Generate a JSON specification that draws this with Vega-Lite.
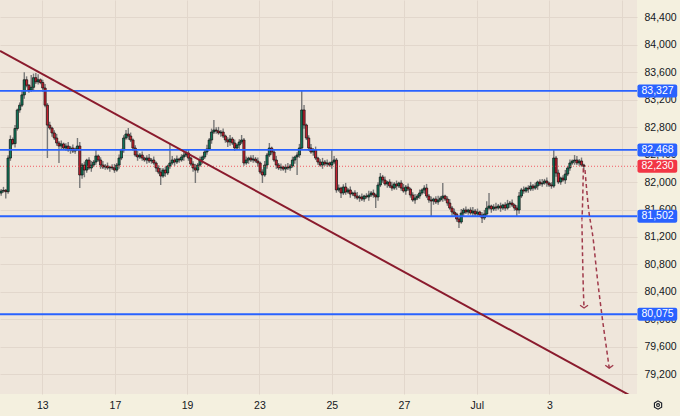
{
  "$schema": "https://vega.github.io/schema/vega-lite/v6.json",
  "width": 637,
  "height": 394,
  "autosize": {"type": "none"},
  "padding": {"left": 0, "top": 0, "right": 43, "bottom": 22},
  "background": "#f4f0df",
  "resolve": {"axis": {"x": "independent", "y": "independent"}},
  "config": {
    "view": {"fill": "#efe6db", "stroke": null},
    "font": "Liberation Sans",
    "scale": {"continuousPadding": 0},
    "axis": {"labelFont": "Liberation Sans", "labelFontSize": 10.5, "labelColor": "#131722"}
  },
  "datasets": {
    "candles": [
      {"i":0,"o":81840,"h":81900,"l":81800,"c":81870},
      {"i":1,"o":81870,"h":81930,"l":81845,"c":81880},
      {"i":2,"o":81880,"h":81900,"l":81760,"c":81860},
      {"i":3,"o":81860,"h":82390,"l":81830,"c":82350},
      {"i":4,"o":82350,"h":82680,"l":82310,"c":82620},
      {"i":5,"o":82620,"h":82650,"l":82535,"c":82560},
      {"i":6,"o":82560,"h":82830,"l":82505,"c":82780},
      {"i":7,"o":82780,"h":83070,"l":82750,"c":83050},
      {"i":8,"o":83050,"h":83160,"l":83010,"c":83120},
      {"i":9,"o":83120,"h":83330,"l":83095,"c":83270},
      {"i":10,"o":83270,"h":83600,"l":83215,"c":83490},
      {"i":11,"o":83490,"h":83540,"l":83380,"c":83410},
      {"i":12,"o":83410,"h":83430,"l":83300,"c":83340},
      {"i":13,"o":83340,"h":83560,"l":83315,"c":83380},
      {"i":14,"o":83380,"h":83580,"l":83325,"c":83520},
      {"i":15,"o":83520,"h":83590,"l":83430,"c":83460},
      {"i":16,"o":83460,"h":83570,"l":83420,"c":83490},
      {"i":17,"o":83490,"h":83510,"l":83425,"c":83450},
      {"i":18,"o":83450,"h":83490,"l":83315,"c":83370},
      {"i":19,"o":83370,"h":83430,"l":83090,"c":83120},
      {"i":20,"o":83120,"h":83150,"l":82350,"c":82830},
      {"i":21,"o":82830,"h":82880,"l":82762,"c":82787},
      {"i":22,"o":82787,"h":82807,"l":82660,"c":82715},
      {"i":23,"o":82715,"h":82755,"l":82612,"c":82642},
      {"i":24,"o":82642,"h":82702,"l":82529,"c":82569},
      {"i":25,"o":82569,"h":82599,"l":82278,"c":82525},
      {"i":26,"o":82525,"h":82605,"l":82470,"c":82555},
      {"i":27,"o":82555,"h":82575,"l":82466,"c":82496},
      {"i":28,"o":82496,"h":82565,"l":82456,"c":82525},
      {"i":29,"o":82525,"h":82585,"l":82442,"c":82467},
      {"i":30,"o":82467,"h":82526,"l":82412,"c":82496},
      {"i":31,"o":82496,"h":82546,"l":82422,"c":82452},
      {"i":32,"o":82452,"h":82502,"l":82412,"c":82482},
      {"i":33,"o":82482,"h":82642,"l":82457,"c":82525},
      {"i":34,"o":82525,"h":82585,"l":81913,"c":82103},
      {"i":35,"o":82103,"h":82278,"l":82048,"c":82248},
      {"i":36,"o":82248,"h":82298,"l":82070,"c":82175},
      {"i":37,"o":82175,"h":82340,"l":82135,"c":82320},
      {"i":38,"o":82320,"h":82360,"l":82180,"c":82205},
      {"i":39,"o":82205,"h":82308,"l":82150,"c":82248},
      {"i":40,"o":82248,"h":82322,"l":82218,"c":82292},
      {"i":41,"o":82292,"h":82467,"l":82252,"c":82380},
      {"i":42,"o":82380,"h":82400,"l":82296,"c":82321},
      {"i":43,"o":82321,"h":82361,"l":82193,"c":82248},
      {"i":44,"o":82248,"h":82308,"l":82189,"c":82219},
      {"i":45,"o":82219,"h":82264,"l":82179,"c":82234},
      {"i":46,"o":82234,"h":82284,"l":82180,"c":82205},
      {"i":47,"o":82205,"h":82239,"l":82150,"c":82219},
      {"i":48,"o":82219,"h":82259,"l":82175,"c":82205},
      {"i":49,"o":82205,"h":82265,"l":82135,"c":82175},
      {"i":50,"o":82175,"h":82278,"l":82150,"c":82248},
      {"i":51,"o":82248,"h":82400,"l":82193,"c":82350},
      {"i":52,"o":82350,"h":82487,"l":82320,"c":82467},
      {"i":53,"o":82467,"h":82682,"l":82427,"c":82642},
      {"i":54,"o":82642,"h":82760,"l":82617,"c":82700},
      {"i":55,"o":82700,"h":82787,"l":82616,"c":82671},
      {"i":56,"o":82671,"h":82721,"l":82583,"c":82613},
      {"i":57,"o":82613,"h":82633,"l":82456,"c":82496},
      {"i":58,"o":82496,"h":82536,"l":82369,"c":82394},
      {"i":59,"o":82394,"h":82454,"l":82310,"c":82365},
      {"i":60,"o":82365,"h":82424,"l":82335,"c":82394},
      {"i":61,"o":82394,"h":82444,"l":82310,"c":82350},
      {"i":62,"o":82350,"h":82370,"l":82296,"c":82321},
      {"i":63,"o":82321,"h":82390,"l":82266,"c":82350},
      {"i":64,"o":82350,"h":82410,"l":82277,"c":82307},
      {"i":65,"o":82307,"h":82351,"l":82267,"c":82321},
      {"i":66,"o":82321,"h":82371,"l":82253,"c":82278},
      {"i":67,"o":82278,"h":82298,"l":82150,"c":82205},
      {"i":68,"o":82205,"h":82245,"l":82116,"c":82146},
      {"i":69,"o":82146,"h":82206,"l":81957,"c":82088},
      {"i":70,"o":82088,"h":82205,"l":82063,"c":82175},
      {"i":71,"o":82175,"h":82225,"l":82077,"c":82132},
      {"i":72,"o":82132,"h":82254,"l":82102,"c":82234},
      {"i":73,"o":82234,"h":82569,"l":82194,"c":82278},
      {"i":74,"o":82278,"h":82381,"l":82253,"c":82321},
      {"i":75,"o":82321,"h":82351,"l":82237,"c":82292},
      {"i":76,"o":82292,"h":82386,"l":82262,"c":82336},
      {"i":77,"o":82336,"h":82356,"l":82281,"c":82321},
      {"i":78,"o":82321,"h":82405,"l":82296,"c":82365},
      {"i":79,"o":82365,"h":82454,"l":82310,"c":82394},
      {"i":80,"o":82394,"h":82467,"l":82364,"c":82423},
      {"i":81,"o":82423,"h":82473,"l":82310,"c":82350},
      {"i":82,"o":82350,"h":82370,"l":82238,"c":82263},
      {"i":83,"o":82263,"h":82303,"l":82150,"c":82205},
      {"i":84,"o":82205,"h":82265,"l":81986,"c":82175},
      {"i":85,"o":82175,"h":82278,"l":82135,"c":82248},
      {"i":86,"o":82248,"h":82371,"l":82223,"c":82321},
      {"i":87,"o":82321,"h":82385,"l":82266,"c":82365},
      {"i":88,"o":82365,"h":82478,"l":82335,"c":82438},
      {"i":89,"o":82438,"h":82542,"l":82398,"c":82482},
      {"i":90,"o":82482,"h":82643,"l":82457,"c":82613},
      {"i":91,"o":82613,"h":82779,"l":82558,"c":82729},
      {"i":92,"o":82729,"h":82904,"l":82699,"c":82758},
      {"i":93,"o":82758,"h":82798,"l":82704,"c":82744},
      {"i":94,"o":82744,"h":82804,"l":82690,"c":82715},
      {"i":95,"o":82715,"h":82759,"l":82660,"c":82729},
      {"i":96,"o":82729,"h":82779,"l":82641,"c":82671},
      {"i":97,"o":82671,"h":82691,"l":82573,"c":82613},
      {"i":98,"o":82613,"h":82653,"l":82511,"c":82584},
      {"i":99,"o":82584,"h":82687,"l":82529,"c":82627},
      {"i":100,"o":82627,"h":82657,"l":82539,"c":82569},
      {"i":101,"o":82569,"h":82619,"l":82456,"c":82496},
      {"i":102,"o":82496,"h":82560,"l":82471,"c":82540},
      {"i":103,"o":82540,"h":82624,"l":82485,"c":82584},
      {"i":104,"o":82584,"h":82686,"l":82554,"c":82613},
      {"i":105,"o":82613,"h":82643,"l":82238,"c":82278},
      {"i":106,"o":82278,"h":82371,"l":82253,"c":82321},
      {"i":107,"o":82321,"h":82370,"l":82266,"c":82350},
      {"i":108,"o":82350,"h":82390,"l":82291,"c":82321},
      {"i":109,"o":82321,"h":82396,"l":82281,"c":82336},
      {"i":110,"o":82336,"h":82366,"l":82282,"c":82307},
      {"i":111,"o":82307,"h":82357,"l":82223,"c":82278},
      {"i":112,"o":82278,"h":82298,"l":82116,"c":82146},
      {"i":113,"o":82146,"h":82186,"l":81986,"c":82103},
      {"i":114,"o":82103,"h":82308,"l":82078,"c":82248},
      {"i":115,"o":82248,"h":82424,"l":82193,"c":82394},
      {"i":116,"o":82394,"h":82569,"l":82364,"c":82496},
      {"i":117,"o":82496,"h":82516,"l":82398,"c":82438},
      {"i":118,"o":82438,"h":82478,"l":82296,"c":82321},
      {"i":119,"o":82321,"h":82381,"l":82193,"c":82248},
      {"i":120,"o":82248,"h":82278,"l":82175,"c":82205},
      {"i":121,"o":82205,"h":82269,"l":82165,"c":82219},
      {"i":122,"o":82219,"h":82239,"l":82165,"c":82190},
      {"i":123,"o":82190,"h":82259,"l":82135,"c":82219},
      {"i":124,"o":82219,"h":82279,"l":82175,"c":82205},
      {"i":125,"o":82205,"h":82264,"l":82165,"c":82234},
      {"i":126,"o":82234,"h":82371,"l":82209,"c":82321},
      {"i":127,"o":82321,"h":82385,"l":82266,"c":82365},
      {"i":128,"o":82365,"h":82434,"l":82103,"c":82394},
      {"i":129,"o":82394,"h":82556,"l":82354,"c":82496},
      {"i":130,"o":82496,"h":83327,"l":82471,"c":83050},
      {"i":131,"o":83050,"h":83122,"l":82776,"c":82831},
      {"i":132,"o":82831,"h":82851,"l":82612,"c":82642},
      {"i":133,"o":82642,"h":82682,"l":82456,"c":82496},
      {"i":134,"o":82496,"h":82556,"l":82413,"c":82438},
      {"i":135,"o":82438,"h":82497,"l":82383,"c":82467},
      {"i":136,"o":82467,"h":82517,"l":82320,"c":82350},
      {"i":137,"o":82350,"h":82370,"l":82252,"c":82292},
      {"i":138,"o":82292,"h":82332,"l":82223,"c":82248},
      {"i":139,"o":82248,"h":82352,"l":82193,"c":82292},
      {"i":140,"o":82292,"h":82322,"l":82233,"c":82263},
      {"i":141,"o":82263,"h":82328,"l":82223,"c":82278},
      {"i":142,"o":82278,"h":82298,"l":82223,"c":82248},
      {"i":143,"o":82248,"h":82467,"l":82193,"c":82292},
      {"i":144,"o":82292,"h":82381,"l":82262,"c":82321},
      {"i":145,"o":82321,"h":82351,"l":81845,"c":81885},
      {"i":146,"o":81885,"h":81963,"l":81860,"c":81913},
      {"i":147,"o":81913,"h":81933,"l":81768,"c":81841},
      {"i":148,"o":81841,"h":81968,"l":81811,"c":81928},
      {"i":149,"o":81928,"h":81988,"l":81815,"c":81855},
      {"i":150,"o":81855,"h":81915,"l":81830,"c":81885},
      {"i":151,"o":81885,"h":81935,"l":81771,"c":81826},
      {"i":152,"o":81826,"h":81861,"l":81796,"c":81841},
      {"i":153,"o":81841,"h":81881,"l":81757,"c":81797},
      {"i":154,"o":81797,"h":81857,"l":81743,"c":81768},
      {"i":155,"o":81768,"h":81813,"l":81713,"c":81783},
      {"i":156,"o":81783,"h":81833,"l":81723,"c":81753},
      {"i":157,"o":81753,"h":81817,"l":81713,"c":81797},
      {"i":158,"o":81797,"h":81837,"l":81758,"c":81783},
      {"i":159,"o":81783,"h":81872,"l":81728,"c":81812},
      {"i":160,"o":81812,"h":81871,"l":81782,"c":81841},
      {"i":161,"o":81841,"h":81891,"l":81772,"c":81812},
      {"i":162,"o":81812,"h":81832,"l":81622,"c":81783},
      {"i":163,"o":81783,"h":81997,"l":81728,"c":81957},
      {"i":164,"o":81957,"h":82132,"l":81927,"c":82074},
      {"i":165,"o":82074,"h":82104,"l":81990,"c":82030},
      {"i":166,"o":82030,"h":82080,"l":81947,"c":81972},
      {"i":167,"o":81972,"h":82021,"l":81917,"c":82001},
      {"i":168,"o":82001,"h":82041,"l":81913,"c":81943},
      {"i":169,"o":81943,"h":82003,"l":81873,"c":81913},
      {"i":170,"o":81913,"h":82002,"l":81888,"c":81972},
      {"i":171,"o":81972,"h":82022,"l":81888,"c":81943},
      {"i":172,"o":81943,"h":82006,"l":81913,"c":81986},
      {"i":173,"o":81986,"h":82026,"l":81873,"c":81913},
      {"i":174,"o":81913,"h":81973,"l":81845,"c":81870},
      {"i":175,"o":81870,"h":81958,"l":81815,"c":81928},
      {"i":176,"o":81928,"h":81978,"l":81869,"c":81899},
      {"i":177,"o":81899,"h":81919,"l":81772,"c":81812},
      {"i":178,"o":81812,"h":81852,"l":81714,"c":81739},
      {"i":179,"o":81739,"h":81828,"l":81684,"c":81768},
      {"i":180,"o":81768,"h":81827,"l":81738,"c":81797},
      {"i":181,"o":81797,"h":81891,"l":81757,"c":81841},
      {"i":182,"o":81841,"h":81905,"l":81816,"c":81885},
      {"i":183,"o":81885,"h":81953,"l":81830,"c":81913},
      {"i":184,"o":81913,"h":81973,"l":81767,"c":81797},
      {"i":185,"o":81797,"h":81827,"l":81699,"c":81739},
      {"i":186,"o":81739,"h":81789,"l":81491,"c":81724},
      {"i":187,"o":81724,"h":81773,"l":81669,"c":81753},
      {"i":188,"o":81753,"h":81793,"l":81680,"c":81710},
      {"i":189,"o":81710,"h":81799,"l":81670,"c":81739},
      {"i":190,"o":81739,"h":81798,"l":81714,"c":81768},
      {"i":191,"o":81768,"h":81986,"l":81713,"c":81797},
      {"i":192,"o":81797,"h":81817,"l":81723,"c":81753},
      {"i":193,"o":81753,"h":81793,"l":81655,"c":81695},
      {"i":194,"o":81695,"h":81755,"l":81597,"c":81622},
      {"i":195,"o":81622,"h":81652,"l":81509,"c":81564},
      {"i":196,"o":81564,"h":81614,"l":81505,"c":81535},
      {"i":197,"o":81535,"h":81555,"l":81422,"c":81462},
      {"i":198,"o":81462,"h":81502,"l":81331,"c":81418},
      {"i":199,"o":81418,"h":81609,"l":81393,"c":81549},
      {"i":200,"o":81549,"h":81623,"l":81494,"c":81593},
      {"i":201,"o":81593,"h":81643,"l":81534,"c":81564},
      {"i":202,"o":81564,"h":81613,"l":81524,"c":81593},
      {"i":203,"o":81593,"h":81633,"l":81524,"c":81549},
      {"i":204,"o":81549,"h":81638,"l":81494,"c":81578},
      {"i":205,"o":81578,"h":81608,"l":81505,"c":81535},
      {"i":206,"o":81535,"h":81614,"l":81495,"c":81564},
      {"i":207,"o":81564,"h":81584,"l":81495,"c":81520},
      {"i":208,"o":81520,"h":81560,"l":81404,"c":81477},
      {"i":209,"o":81477,"h":81595,"l":81447,"c":81535},
      {"i":210,"o":81535,"h":81720,"l":81495,"c":81622},
      {"i":211,"o":81622,"h":81841,"l":81597,"c":81651},
      {"i":212,"o":81651,"h":81671,"l":81553,"c":81608},
      {"i":213,"o":81608,"h":81677,"l":81578,"c":81637},
      {"i":214,"o":81637,"h":81697,"l":81582,"c":81622},
      {"i":215,"o":81622,"h":81681,"l":81597,"c":81651},
      {"i":216,"o":81651,"h":81701,"l":81567,"c":81622},
      {"i":217,"o":81622,"h":81686,"l":81592,"c":81666},
      {"i":218,"o":81666,"h":81706,"l":81582,"c":81622},
      {"i":219,"o":81622,"h":81741,"l":81597,"c":81681},
      {"i":220,"o":81681,"h":81725,"l":81626,"c":81695},
      {"i":221,"o":81695,"h":81745,"l":81636,"c":81666},
      {"i":222,"o":81666,"h":81686,"l":81582,"c":81622},
      {"i":223,"o":81622,"h":81662,"l":81506,"c":81593},
      {"i":224,"o":81593,"h":81857,"l":81538,"c":81797},
      {"i":225,"o":81797,"h":81915,"l":81767,"c":81885},
      {"i":226,"o":81885,"h":81935,"l":81830,"c":81870},
      {"i":227,"o":81870,"h":81933,"l":81845,"c":81913},
      {"i":228,"o":81913,"h":81953,"l":81844,"c":81899},
      {"i":229,"o":81899,"h":82003,"l":81869,"c":81943},
      {"i":230,"o":81943,"h":81973,"l":81873,"c":81913},
      {"i":231,"o":81913,"h":81993,"l":81888,"c":81943},
      {"i":232,"o":81943,"h":82021,"l":81888,"c":82001},
      {"i":233,"o":82001,"h":82041,"l":81942,"c":81972},
      {"i":234,"o":81972,"h":82046,"l":81932,"c":81986},
      {"i":235,"o":81986,"h":82046,"l":81961,"c":82016},
      {"i":236,"o":82016,"h":82066,"l":81931,"c":81986},
      {"i":237,"o":81986,"h":82006,"l":81927,"c":81957},
      {"i":238,"o":81957,"h":81997,"l":81903,"c":81943},
      {"i":239,"o":81943,"h":82467,"l":81918,"c":82350},
      {"i":240,"o":82350,"h":82380,"l":82077,"c":82132},
      {"i":241,"o":82132,"h":82182,"l":81971,"c":82001},
      {"i":242,"o":82001,"h":82079,"l":81961,"c":82059},
      {"i":243,"o":82059,"h":82099,"l":82005,"c":82030},
      {"i":244,"o":82030,"h":82177,"l":81975,"c":82117},
      {"i":245,"o":82117,"h":82235,"l":82087,"c":82205},
      {"i":246,"o":82205,"h":82328,"l":82165,"c":82278},
      {"i":247,"o":82278,"h":82327,"l":82253,"c":82307},
      {"i":248,"o":82307,"h":82394,"l":82252,"c":82321},
      {"i":249,"o":82321,"h":82381,"l":82248,"c":82278},
      {"i":250,"o":82278,"h":82337,"l":82238,"c":82307},
      {"i":251,"o":82307,"h":82357,"l":82223,"c":82248},
      {"i":252,"o":82248,"h":82268,"l":82175,"c":82230}
    ],
    "levels": [
      {"p": 83327, "kind": "level"},
      {"p": 82468, "kind": "level"},
      {"p": 81502, "kind": "level"},
      {"p": 80075, "kind": "level"},
      {"p": 82230, "kind": "last"}
    ],
    "trend": [
      {"i": -0.5, "p": 83911},
      {"i": 275, "p": 78836}
    ],
    "arrows": [
      {"a": 1, "k": 0, "i": 251.8, "p": 82200},
      {"a": 1, "k": 1, "i": 251.1, "p": 81447},
      {"a": 1, "k": 2, "i": 251.4, "p": 81010},
      {"a": 1, "k": 3, "i": 251.8, "p": 80428},
      {"a": 1, "k": 4, "i": 252.1, "p": 80165},
      {"a": 2, "k": 0, "i": 252.5, "p": 82176},
      {"a": 2, "k": 1, "i": 253.95, "p": 81641},
      {"a": 2, "k": 2, "i": 256.1, "p": 81156},
      {"a": 2, "k": 3, "i": 257.6, "p": 80675},
      {"a": 2, "k": 4, "i": 259.7, "p": 80093},
      {"a": 2, "k": 5, "i": 261.9, "p": 79554},
      {"a": 2, "k": 6, "i": 263.0, "p": 79290}
    ],
    "heads": [
      {"i": 252.1, "p": 80165},
      {"i": 263.0, "p": 79290}
    ],
    "icon": [
      {"i": 284.1, "p": 78752}
    ]
  },
  "layer": [
    {
      "data": {"name": "candles"},
      "mark": {"type": "rule", "color": "#787878", "strokeWidth": 1.4},
      "encoding": {
        "x": {
          "field": "i", "type": "quantitative",
          "scale": {"domain": [-0.5, 275], "nice": false, "zero": false, "padding": 0},
          "axis": {
            "title": null, "values": [17.8, 49.2, 80.4, 111.7, 143.0, 174.2, 205.7, 237.1, 268.5],
            "labelExpr": "datum.value < 30 ? '13' : datum.value < 60 ? '17' : datum.value < 95 ? '19' : datum.value < 125 ? '23' : datum.value < 160 ? '25' : datum.value < 190 ? '27' : datum.value < 220 ? 'Jul' : datum.value < 250 ? '3' : ''",
            "grid": true, "gridColor": "#e2d7cc", "gridWidth": 1,
            "ticks": false, "tickSize": 0, "domain": false, "labelPadding": 6, "labelFlush": false, "labelOverlap": false
          }
        },
        "y": {
          "field": "l", "type": "quantitative",
          "scale": {"domain": [78913, 84652], "nice": false, "zero": false, "padding": 0},
          "axis": {
            "title": null, "orient": "right",
            "values": [79200, 79600, 80000, 80400, 80800, 81200, 81600, 82000, 82400, 82800, 83200, 83600, 84000, 84400],
            "format": ",", "labelExpr": "format(datum.value, ',')",
            "grid": true, "gridColor": "#e2d7cc", "gridWidth": 1,
            "ticks": false, "tickSize": 0, "domain": false, "labelPadding": 7, "labelOverlap": false
          }
        },
        "y2": {"field": "h"}
      }
    },
    {
      "data": {"name": "candles"},
      "mark": {"type": "bar", "width": 2.2, "stroke": "#111111", "strokeWidth": 0.7},
      "encoding": {
        "x": {"field": "i", "type": "quantitative", "scale": {"domain": [-0.5, 275], "nice": false, "zero": false, "padding": 0}, "axis": null},
        "y": {"field": "o", "type": "quantitative", "scale": {"domain": [78913, 84652], "nice": false, "zero": false, "padding": 0}, "axis": null},
        "y2": {"field": "c"},
        "color": {"condition": {"test": "datum.c >= datum.o", "value": "#10785a"}, "value": "#c4202f"}
      }
    },
    {
      "data": {"name": "levels"},
      "transform": [{"filter": "datum.kind == 'last'"}],
      "mark": {"type": "rule", "color": "#f23645", "strokeWidth": 1, "strokeDash": [1, 2], "opacity": 0.8},
      "encoding": {
        "y": {"field": "p", "type": "quantitative", "scale": {"domain": [78913, 84652], "nice": false, "zero": false, "padding": 0}, "axis": null}
      }
    },
    {
      "data": {"name": "levels"},
      "transform": [{"filter": "datum.kind == 'level'"}],
      "mark": {"type": "rule", "color": "#2962ff", "strokeWidth": 1.8},
      "encoding": {
        "y": {"field": "p", "type": "quantitative", "scale": {"domain": [78913, 84652], "nice": false, "zero": false, "padding": 0}, "axis": null}
      }
    },
    {
      "data": {"name": "trend"},
      "mark": {"type": "line", "color": "#8a1b2d", "strokeWidth": 2, "clip": true},
      "encoding": {
        "x": {"field": "i", "type": "quantitative", "scale": {"domain": [-0.5, 275], "nice": false, "zero": false, "padding": 0}, "axis": null},
        "y": {"field": "p", "type": "quantitative", "scale": {"domain": [78913, 84652], "nice": false, "zero": false, "padding": 0}, "axis": null}
      }
    },
    {
      "data": {"name": "arrows"},
      "mark": {"type": "line", "color": "#a03a4b", "strokeWidth": 1.5, "strokeDash": [4, 3], "interpolate": "monotone"},
      "encoding": {
        "x": {"field": "i", "type": "quantitative", "scale": {"domain": [-0.5, 275], "nice": false, "zero": false, "padding": 0}, "axis": null},
        "y": {"field": "p", "type": "quantitative", "scale": {"domain": [78913, 84652], "nice": false, "zero": false, "padding": 0}, "axis": null},
        "detail": {"field": "a"},
        "order": {"field": "k"}
      }
    },
    {
      "data": {"name": "heads"},
      "mark": {"type": "point", "shape": "M-1,-0.7L0,0L1,-0.7", "filled": false, "stroke": "#a03a4b", "strokeWidth": 1.3, "size": 64, "opacity": 1},
      "encoding": {
        "x": {"field": "i", "type": "quantitative", "scale": {"domain": [-0.5, 275], "nice": false, "zero": false, "padding": 0}, "axis": null},
        "y": {"field": "p", "type": "quantitative", "scale": {"domain": [78913, 84652], "nice": false, "zero": false, "padding": 0}, "axis": null}
      }
    },
    {
      "data": {"name": "levels"},
      "mark": {"type": "bar", "height": 13, "cornerRadius": 2},
      "encoding": {
        "x": {"datum": 275.2, "type": "quantitative", "scale": {"domain": [-0.5, 275], "nice": false, "zero": false, "padding": 0}, "axis": null},
        "x2": {"datum": 292.4},
        "y": {"field": "p", "type": "quantitative", "scale": {"domain": [78913, 84652], "nice": false, "zero": false, "padding": 0}, "axis": null},
        "color": {"condition": {"test": "datum.kind == 'last'", "value": "#f23645"}, "value": "#2962ff"}
      }
    },
    {
      "data": {"name": "levels"},
      "mark": {"type": "text", "color": "#ffffff", "fontSize": 10.5, "align": "center", "baseline": "middle", "font": "Liberation Sans"},
      "encoding": {
        "x": {"datum": 283.9, "type": "quantitative", "scale": {"domain": [-0.5, 275], "nice": false, "zero": false, "padding": 0}, "axis": null},
        "y": {"field": "p", "type": "quantitative", "scale": {"domain": [78913, 84652], "nice": false, "zero": false, "padding": 0}, "axis": null},
        "text": {"field": "p", "type": "quantitative", "format": ","}
      }
    },
    {
      "data": {"name": "icon"},
      "mark": {"type": "point", "shape": "M0,-1L0.866,-0.5L0.866,0.5L0,1L-0.866,0.5L-0.866,-0.5Z", "filled": false, "stroke": "#131722", "strokeWidth": 1.1, "size": 70, "opacity": 1},
      "encoding": {
        "x": {"field": "i", "type": "quantitative", "scale": {"domain": [-0.5, 275], "nice": false, "zero": false, "padding": 0}, "axis": null},
        "y": {"field": "p", "type": "quantitative", "scale": {"domain": [78913, 84652], "nice": false, "zero": false, "padding": 0}, "axis": null}
      }
    },
    {
      "data": {"name": "icon"},
      "mark": {"type": "point", "shape": "circle", "filled": false, "stroke": "#131722", "strokeWidth": 1.1, "size": 8, "opacity": 1},
      "encoding": {
        "x": {"field": "i", "type": "quantitative", "scale": {"domain": [-0.5, 275], "nice": false, "zero": false, "padding": 0}, "axis": null},
        "y": {"field": "p", "type": "quantitative", "scale": {"domain": [78913, 84652], "nice": false, "zero": false, "padding": 0}, "axis": null}
      }
    }
  ]
}
